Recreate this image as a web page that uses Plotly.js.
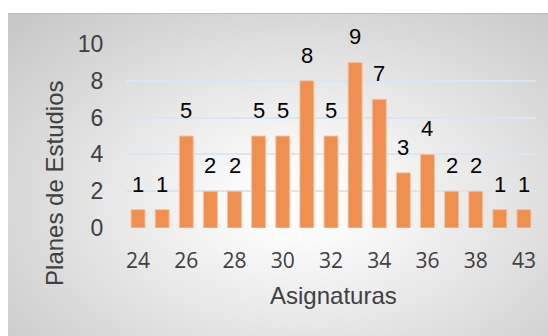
<!DOCTYPE html>
<html>
<head>
<meta charset="utf-8">
<script src="https://cdn.plot.ly/plotly-3.0.1.min.js"></script>
<style>
  html, body { margin: 0; padding: 0; background: #ffffff; }
  #wrap { position: relative; width: 548px; height: 336px; overflow: hidden; background: #ffffff; }
  #bg { position: absolute; left: 8px; top: 13px; width: 540px; height: 323px;
        border-top: 1px solid #bdbdbd;
        background: radial-gradient(ellipse farthest-corner at 54% 58%, #ffffff 0%, #fbfbfb 15%, #c5c5c5 100%); }
  #chart { position: absolute; left: 0; top: 0; width: 548px; height: 336px; }
</style>
</head>
<body>
<div id="wrap"><div id="bg"></div><div id="chart"></div></div>
<script>
// Data
const categories = ["24","25","26","27","28","29","30","31","32","33","34","35","36","37","38","40","43"];
const values     = [1, 1, 5, 2, 2, 5, 5, 8, 5, 9, 7, 3, 4, 2, 2, 1, 1];
const tickLabels = ["24","26","28","30","32","34","36","38","43"];
const yTicks     = [0, 2, 4, 6, 8, 10];
const xTitle = "Asignaturas";
const yTitle = "Planes de Estudios";

const trace = {
  type: 'bar',
  x: categories,
  y: values,
  marker: { color: '#EF8F50', line: { color: '#F7C3A0', width: 1 } },
  hoverinfo: 'x+y'
};

// value labels: positioned on the category axis by category index
const labelAnnotations = categories.map((c, i) => ({
  x: categories.indexOf(c), y: values[i], xref: 'x', yref: 'y',
  text: String(values[i]), showarrow: false,
  xanchor: 'center', yanchor: 'bottom', yshift: 11,
  font: { family: 'Liberation Sans, Arial, sans-serif', size: 22, color: '#000000' }
}));

const layout = {
  width: 548, height: 336,
  margin: { l: 125.5, r: 12.3, t: 43.5, b: 107.5 },
  paper_bgcolor: 'rgba(0,0,0,0)',
  plot_bgcolor: 'rgba(0,0,0,0)',
  bargap: 0.42,
  showlegend: false,
  xaxis: {
    type: 'category',
    categoryorder: 'array', categoryarray: categories,
    range: [-0.5, categories.length - 0.5], autorange: false,
    tickmode: 'array', tickvals: tickLabels, ticktext: tickLabels, tickangle: 0,
    showgrid: false, zeroline: false, showline: false,
    ticks: 'outside', ticklen: 14, tickcolor: 'rgba(0,0,0,0)',
    tickfont: { family: 'Open Sans, sans-serif', size: 21, color: '#404040' }
  },
  yaxis: {
    range: [0, 10], autorange: false,
    tickmode: 'array', tickvals: yTicks,
    showgrid: true, gridcolor: '#DCE6F2', gridwidth: 2,
    zeroline: false, showline: false,
    ticks: 'outside', ticklen: 17, tickcolor: 'rgba(0,0,0,0)',
    tickfont: { family: 'Liberation Sans, Arial, sans-serif', size: 23, color: '#404040' }
  },
  annotations: labelAnnotations.concat([
    { xref: 'paper', yref: 'paper', x: 0.506, y: -0.369, xanchor: 'center', yanchor: 'middle',
      text: xTitle, showarrow: false,
      font: { family: 'Liberation Sans, Arial, sans-serif', size: 24, color: '#404040' } },
    { xref: 'paper', yref: 'paper', x: -0.174, y: 0.243, xanchor: 'center', yanchor: 'middle',
      text: yTitle, showarrow: false, textangle: -90,
      font: { family: 'Liberation Sans, Arial, sans-serif', size: 24, color: '#404040' } }
  ])
};

Plotly.newPlot('chart', [trace], layout, { displayModeBar: false, staticPlot: true });
</script>
</body>
</html>
